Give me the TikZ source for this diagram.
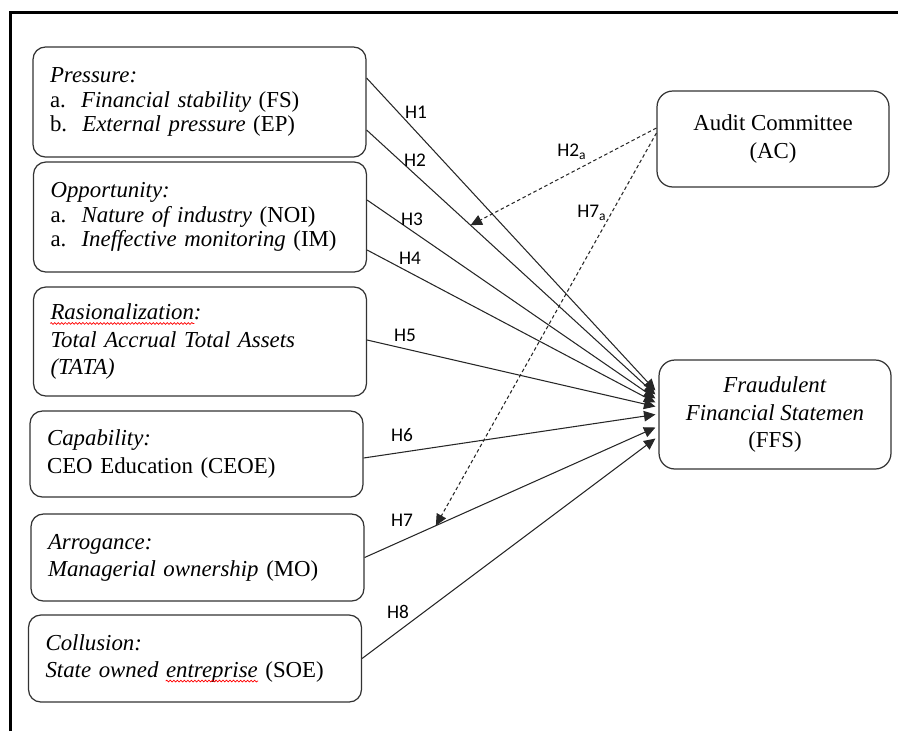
\documentclass[tikz,border=0pt]{standalone}
\usepackage{fontspec}
\usepackage{xcolor}
\usetikzlibrary{arrows.meta,decorations.pathmorphing}
\setmainfont{Liberation Serif}
\newfontfamily\labfont{Carlito}
% red wavy mark of the spell checker
\newcommand\redwave[1]{\tikz[baseline=(w.base),x=1cm,y=1cm,sharp corners,line width=0.4pt]{\node[inner sep=0pt,minimum width=0pt,minimum height=0pt,draw=none,text width=,align=left] (w) {#1};\draw[overlay,-,red,decorate,decoration={snake,amplitude=0.5pt,segment length=2pt}] ([yshift=-2pt]w.base west) -- ([yshift=-2pt]w.base east);}}

\begin{document}
\begin{tikzpicture}[x=0.02cm,y=-0.02cm,-{Triangle[length=6.5pt,width=6pt]}]
            \tikzstyle{factor}=[draw=black!80,line width=0.7pt,rounded corners=7pt,align=left,text width=5.98cm,inner xsep=0.34cm,inner ysep=2pt,font=\fontsize{13}{15.4}\selectfont]
            \tikzstyle{tight}=[font=\fontsize{13}{13.8}\selectfont]
            \tikzstyle{result}=[draw=black!80,line width=0.7pt,rounded corners=9pt,align=center,minimum width=4.64cm,font=\fontsize{13}{15.4}\selectfont]
            \tikzstyle{hyp}=[font=\labfont\fontsize{11}{12}\selectfont,inner sep=0pt]
            \useasboundingbox (0,0) rectangle (898,731);
            \draw[-,line width=1.8pt] (10.5,731) |- (898,12.5);

                    \node[factor,tight,minimum height=2.2cm] (press) at (199.5,102){\textit{Pressure:}\\a.\ \ \textit{Financial stability} (FS)\\b.\ \ \textit{External pressure} (EP)};
                    \node[factor,tight,minimum height=2.2cm] (opp) at (200,217){\textit{Opportunity:}\\a.\ \ \textit{Nature of industry} (NOI)\\a.\ \ \textit{Ineffective monitoring} (IM)};
                    \node[factor,minimum height=2.18cm] (rasio) at (200,341.5){\textit{\redwave{Rasionalization}:}\\\textit{Total Accrual Total Assets}\\\textit{(TATA)}};
                    \node[factor,minimum height=1.72cm] (capab) at (196.5,454){\textit{Capability:}\\CEO Education (CEOE)};
                    \node[factor,minimum height=1.74cm] (arrog) at (197.5,557.5){\textit{Arrogance:}\\\textit{Managerial ownership} (MO)};
                    \node[factor,minimum height=1.74cm] (collu) at (195,658.5){\textit{Collusion:}\\\textit{State owned \redwave{entreprise}} (SOE)};

                    \node[result,minimum height=1.92cm] (ac) at (773,139){Audit Committee\\(AC)};
                    \node[result,minimum height=2.18cm] (ffs) at (775,414.5){\textit{Fraudulent}\\\textit{Financial Statemen}\\(FFS)};

                \foreach \from/\sy/\ty/\p/\lab/\lx/\ly in {press/0.48/0.48/0.36/H1/416/112, press/-0.56/0.40/0.36/H2/415/160, opp/0.34/0.32/0.5/H3/412/219, opp/-0.66/0.24/0.5/H4/410/258, rasio/0.03/0.16/0.5/H5/405/335, capab/-0.08/0/0.5/H6/402/435, arrog/0/-0.26/0.245/H7/402/520, collu/0/-0.48/0.5/H8/398/612}
                {
                    \draw[black!85,line width=0.6pt] ([yshift=\sy cm]\from.east) -- coordinate[pos=\p] (on-\lab) ([xshift=-0.06cm,yshift=\ty cm]ffs.west);
                    \node[hyp] (lab-\lab) at (\lx,\ly){\lab};
                }

                \draw[black!85,line width=0.6pt,dash pattern=on 2pt off 1.5pt] ([yshift=0.22cm]ac.west) -- (on-H2);
                \draw[black!85,line width=0.6pt,dash pattern=on 2pt off 1.5pt] ([yshift=0.12cm]ac.west) -- (on-H7);
                \node[hyp] (lab-H2a) at (572,152){H2\textsubscript{a}};
                \node[hyp] (lab-H7a) at (592,213){H7\textsubscript{a}};
        \end{tikzpicture}
\end{document}
